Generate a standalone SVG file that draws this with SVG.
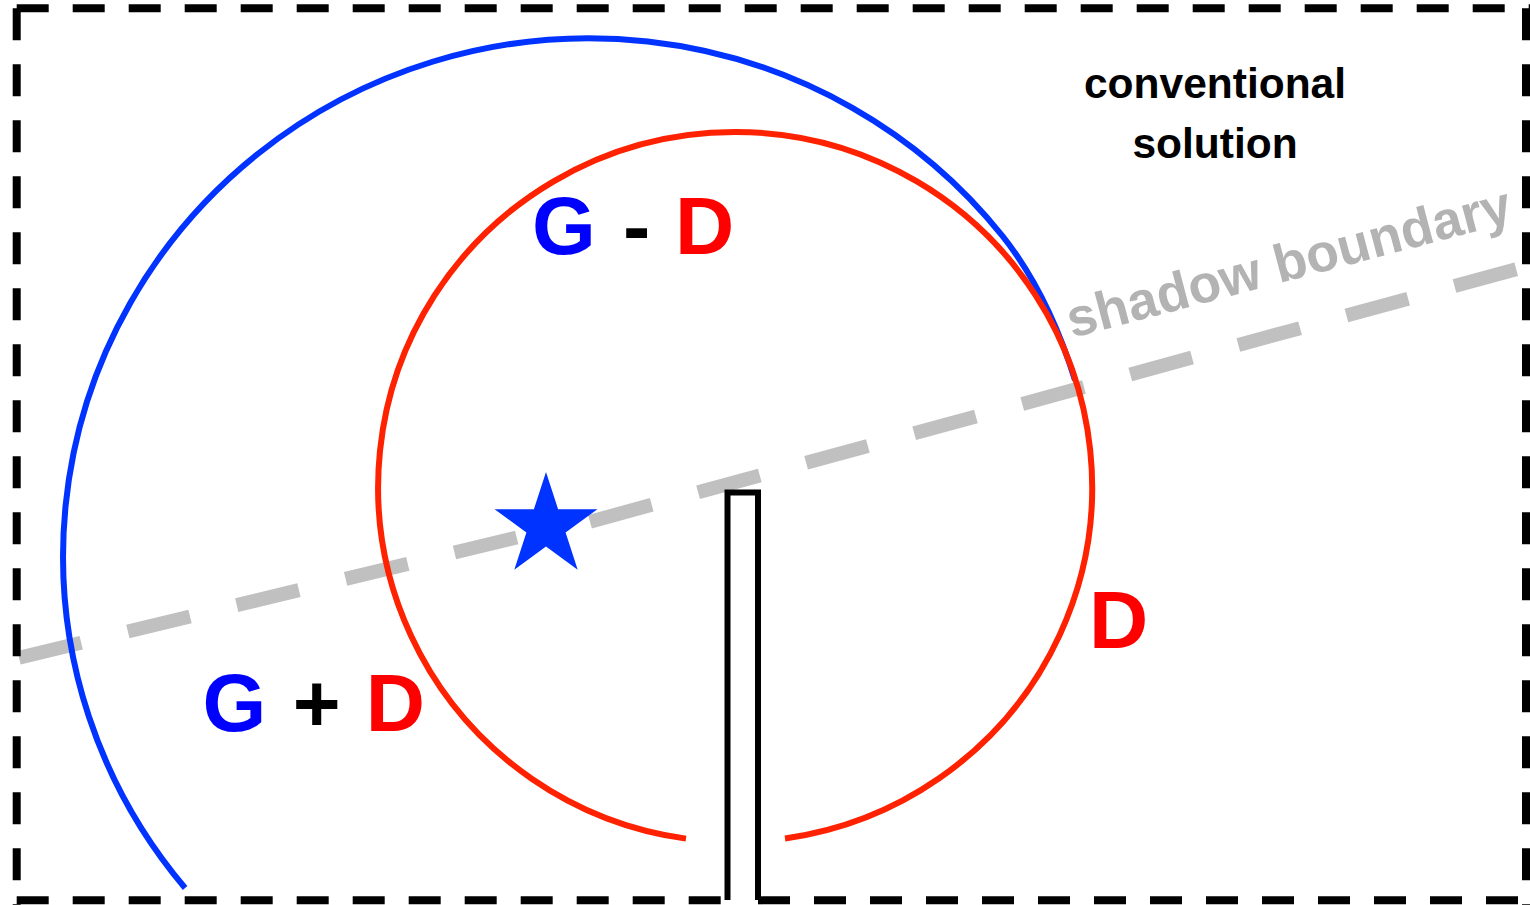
<svg xmlns="http://www.w3.org/2000/svg" width="1530" height="905" viewBox="0 0 1530 905">
<style>
.border{stroke:#000;stroke-width:8;stroke-dasharray:32 24;fill:none}
.shadow{stroke:#c0c0c0;stroke-width:14;stroke-dasharray:64 48;fill:none}
.lbl{font-family:"Liberation Sans",Arial,sans-serif;font-weight:bold}
.big{font-size:82px}
.g{fill:#0000ff}.d{fill:#ff0000}.k{fill:#000}
</style>
<rect width="1530" height="905" fill="#fff"/>
<g id="shadow-boundary">
<line class="shadow" x1="19" y1="657.8" x2="516.7" y2="537.5"/>
<line class="shadow" x1="590" y1="521.7" x2="1519" y2="268.5"/>
<text class="lbl" transform="translate(1072,338) rotate(-14.8)" font-size="53.5" fill="#b3b3b3">shadow boundary</text>
</g>
<g id="connectors">
<path id="blue-arc" d="M185.1,888 A526 518 0 1 1 1002.5,236 C1036.1,278.3 1058.8,328.6 1075,380" fill="none" stroke="#0033ff" stroke-width="6"/>
<path id="red-arc" d="M686,838.6 A357 355 0 1 1 785,838.5" fill="none" stroke="#ff2200" stroke-width="6"/>
</g>
<g id="screen">
<path d="M727.5,900 V492.5 H758 V900" fill="none" stroke="#000" stroke-width="6"/>
</g>
<g id="source">
<polygon points="546,472 558.1,509.3 597.4,509.3 565.6,532.4 577.7,569.7 546,546.6 514.3,569.7 526.4,532.4 494.6,509.3 533.9,509.3" fill="#0033ff"/>
</g>
<g id="label-g-minus-d">
<text class="lbl big" y="254"><tspan class="g" x="532">G</tspan><tspan class="k" x="623">-</tspan><tspan class="d" x="675">D</tspan></text>
</g>
<g id="label-g-plus-d">
<text class="lbl big" y="731"><tspan class="g" x="202.4">G</tspan><tspan class="k" x="292.7">+</tspan><tspan class="d" x="365.7">D</tspan></text>
</g>
<g id="label-d">
<text class="lbl big d" x="1089" y="648">D</text>
</g>
<g id="label-conventional">
<text class="lbl k" font-size="42.5" text-anchor="middle"><tspan x="1215" y="98">conventional</tspan><tspan x="1215" y="158">solution</tspan></text>
</g>
<g id="frame">
<line class="border" x1="16.7" y1="8.3" x2="1530" y2="8.3"/>
<line class="border" x1="16.7" y1="8.3" x2="16.7" y2="905"/>
<line class="border" x1="1526" y1="8.3" x2="1526" y2="905"/>
<line class="border" x1="16.7" y1="900.3" x2="725" y2="900.3"/>
<line class="border" x1="758" y1="900.3" x2="1530" y2="900.3"/>
</g>
</svg>
